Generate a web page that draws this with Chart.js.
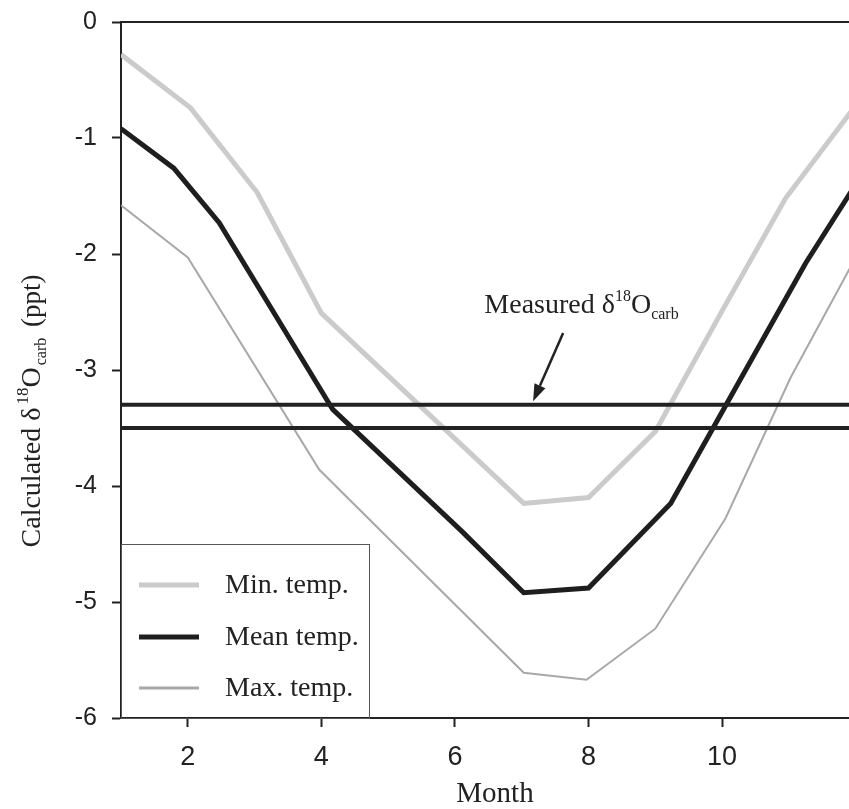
<!DOCTYPE html>
<html>
<head>
<meta charset="utf-8">
<script src="https://cdn.jsdelivr.net/npm/chart.js@4.4.1/dist/chart.umd.min.js"></script>
<style>
  html, body { margin: 0; padding: 0; background: #fff; }
  canvas { display: block; }
</style>
</head>
<body>
<canvas id="myChart" width="849" height="809"></canvas>
<script>
// Values (month, calculated d18O in ppt)
const minMonths = [1, 2.04, 3.04, 4, 7.03, 8, 9, 10, 10.95, 12];
const minValues = [-0.28, -0.74, -1.47, -2.51, -4.15, -4.10, -3.53, -2.49, -1.52, -0.72];

const meanMonths = [1, 1.79, 2.47, 4.17, 6.12, 7.03, 8, 9.23, 11.25, 12];
const meanValues = [-0.92, -1.26, -1.73, -3.34, -4.40, -4.92, -4.88, -4.15, -2.08, -1.40];

const maxMonths = [1, 2, 3.97, 7.03, 7.97, 9, 10.05, 11.03, 12];
const maxValues = [-1.58, -2.03, -3.86, -5.61, -5.67, -5.23, -4.28, -3.06, -2.03];

// measured d18O carb band (two horizontal lines)
const measuredLevels = [-3.3, -3.5];
const measuredSpan = [1, 12];

const seriesLabels = ['Min. temp.', 'Mean temp.', 'Max. temp.'];
const xTicks = [2, 4, 6, 8, 10];
const yTicks = [0, -1, -2, -3, -4, -5, -6];

const serif = '"Liberation Serif", "Times New Roman", serif';
const sans = '"Liberation Sans", Arial, sans-serif';
const ink = '#222222';

const lineStyles = [
  { color: '#cbcbcb', width: 5 },
  { color: '#1e1e1e', width: 5 },
  { color: '#a8a8a8', width: 2 },
];

const toPoints = (xs, ys) => xs.map((x, i) => ({ x, y: ys[i] }));

// text made of normal / superscript / subscript pieces
function richWidth(ctx, parts) {
  let w = 0;
  parts.forEach((p) => {
    ctx.font = `${p.size}px ${serif}`;
    w += ctx.measureText(p.text).width + (p.gap || 0);
  });
  return w;
}
function drawRich(ctx, parts, x, y) {
  let cx = x;
  parts.forEach((p) => {
    ctx.font = `${p.size}px ${serif}`;
    ctx.fillText(p.text, cx, y + (p.dy || 0));
    cx += ctx.measureText(p.text).width + (p.gap || 0);
  });
}

const yTitleParts = [
  { text: 'Calculated δ', size: 28, gap: 3 },
  { text: '18', size: 17, dy: -12 },
  { text: 'O', size: 28, gap: 2 },
  { text: 'carb', size: 16, dy: 6, gap: 4 },
  { text: ' (ppt)', size: 27 },
];
const measuredParts = [
  { text: 'Measured δ', size: 28 },
  { text: '18', size: 16, dy: -12 },
  { text: 'O', size: 28 },
  { text: 'carb', size: 16, dy: 6 },
];
// annotation anchors in data units
const labelAnchor = { x: 6.44, y: -2.51 };
const arrowTail = { x: 7.62, y: -2.68 };
const arrowTip = { x: 7.17, y: -3.27 };

const datasets = [
  ...measuredLevels.map((lvl) => ({
    data: toPoints(measuredSpan, [lvl, lvl]),
    borderColor: ink,
    borderWidth: 4,
    order: 0,
  })),
  {
    label: seriesLabels[1],
    data: toPoints(meanMonths, meanValues),
    borderColor: lineStyles[1].color,
    borderWidth: lineStyles[1].width,
    order: 1,
  },
  {
    label: seriesLabels[0],
    data: toPoints(minMonths, minValues),
    borderColor: lineStyles[0].color,
    borderWidth: lineStyles[0].width,
    order: 2,
  },
  {
    label: seriesLabels[2],
    data: toPoints(maxMonths, maxValues),
    borderColor: lineStyles[2].color,
    borderWidth: lineStyles[2].width,
    order: 3,
  },
];

const decorPlugin = {
  id: 'decorPlugin',
  afterDatasetsDraw(chart) {
    const { ctx, chartArea, scales } = chart;
    const { x, y } = scales;
    ctx.save();

    // top frame line
    ctx.strokeStyle = ink;
    ctx.lineWidth = 2;
    ctx.beginPath();
    ctx.moveTo(chartArea.left, chartArea.top);
    ctx.lineTo(chartArea.right, chartArea.top);
    ctx.stroke();

    // measured label + arrow
    ctx.fillStyle = ink;
    ctx.textAlign = 'left';
    ctx.textBaseline = 'alphabetic';
    drawRich(ctx, measuredParts, x.getPixelForValue(labelAnchor.x), y.getPixelForValue(labelAnchor.y));

    const tx = x.getPixelForValue(arrowTail.x), ty = y.getPixelForValue(arrowTail.y);
    const hx = x.getPixelForValue(arrowTip.x), hy = y.getPixelForValue(arrowTip.y);
    const ang = Math.atan2(hy - ty, hx - tx);
    const headLen = 17, headHalf = 6;
    const bx = hx - headLen * Math.cos(ang), by = hy - headLen * Math.sin(ang);
    ctx.lineWidth = 2.5;
    ctx.beginPath();
    ctx.moveTo(tx, ty);
    ctx.lineTo(bx, by);
    ctx.stroke();
    ctx.beginPath();
    ctx.moveTo(hx, hy);
    ctx.lineTo(bx + headHalf * Math.sin(ang), by - headHalf * Math.cos(ang));
    ctx.lineTo(bx - headHalf * Math.sin(ang), by + headHalf * Math.cos(ang));
    ctx.closePath();
    ctx.fill();

    // legend box in the lower left corner
    const boxL = chartArea.left, boxR = chartArea.left + 248;
    const boxB = chartArea.bottom, boxT = chartArea.bottom - 174;
    ctx.fillStyle = '#fff';
    ctx.fillRect(boxL + 1, boxT, boxR - boxL - 1, boxB - boxT - 1);
    ctx.strokeStyle = '#555';
    ctx.lineWidth = 1;
    ctx.strokeRect(boxL + 0.5, boxT + 0.5, boxR - boxL, boxB - boxT);
    const rowY = [41, 93, 144];
    seriesLabels.forEach((lab, i) => {
      const ly = boxT + rowY[i];
      ctx.strokeStyle = lineStyles[i].color;
      ctx.lineWidth = lineStyles[i].width + (i === 2 ? 1 : 0);
      ctx.beginPath();
      ctx.moveTo(boxL + 18, ly);
      ctx.lineTo(boxL + 78, ly);
      ctx.stroke();
      ctx.fillStyle = ink;
      ctx.font = `28px ${serif}`;
      ctx.fillText(lab, boxL + 104, ly + 8);
    });

    ctx.restore();
  },
  afterDraw(chart) {
    const { ctx, chartArea } = chart;
    ctx.save();
    ctx.fillStyle = ink;
    ctx.textBaseline = 'alphabetic';

    // x axis title
    ctx.font = `29px ${serif}`;
    ctx.textAlign = 'center';
    ctx.fillText('Month', (chartArea.left + chartArea.right) / 2 + 10, chartArea.bottom + 84);

    // y axis title, rotated
    ctx.textAlign = 'left';
    ctx.translate(40, (chartArea.top + chartArea.bottom) / 2 + 41);
    ctx.rotate(-Math.PI / 2);
    const w = richWidth(ctx, yTitleParts);
    drawRich(ctx, yTitleParts, -w / 2, 0);
    ctx.restore();
  },
};

new Chart(document.getElementById('myChart'), {
  type: 'line',
  data: { datasets },
  options: {
    responsive: false,
    animation: false,
    layout: { padding: { top: 22, right: 0, left: 0, bottom: 0 } },
    elements: {
      point: { radius: 0 },
      line: { tension: 0, fill: false, borderJoinStyle: 'miter' },
    },
    plugins: {
      legend: { display: false },
      tooltip: { enabled: false },
    },
    scales: {
      x: {
        type: 'linear',
        min: 1,
        max: 11.9,
        afterBuildTicks: (s) => { s.ticks = xTicks.map((v) => ({ value: v })); },
        afterFit: (s) => {
          s.height = 91;
          s.paddingLeft = 0;
          s.paddingRight = 0;
        },
        grid: { drawOnChartArea: false, drawTicks: true, tickLength: 9, tickColor: ink, tickWidth: 2 },
        border: { display: true, color: ink, width: 2 },
        ticks: { color: ink, font: { family: sans, size: 27 }, padding: 14, maxRotation: 0 },
      },
      y: {
        type: 'linear',
        min: -6,
        max: 0,
        afterBuildTicks: (s) => { s.ticks = yTicks.map((v) => ({ value: v })); },
        afterFit: (s) => {
          s.width = 121;
          s.paddingTop = 0;
          s.paddingBottom = 0;
        },
        grid: { drawOnChartArea: false, drawTicks: true, tickLength: 9, tickColor: ink, tickWidth: 2 },
        border: { display: true, color: ink, width: 2 },
        ticks: { color: ink, font: { family: sans, size: 25 }, padding: 15 },
      },
    },
  },
  plugins: [decorPlugin],
});
</script>
</body>
</html>
